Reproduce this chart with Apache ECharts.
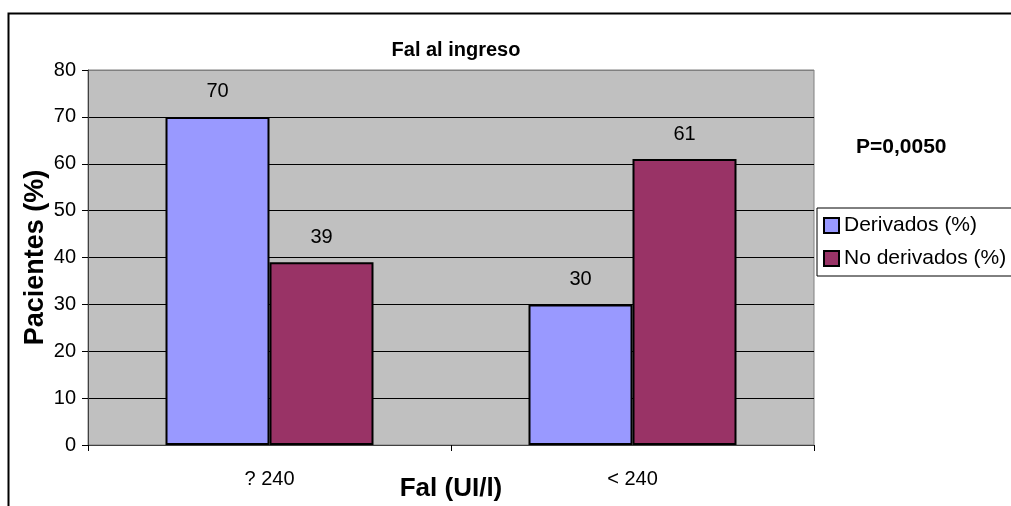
<!DOCTYPE html>
<html><head><meta charset="utf-8">
<script src="https://cdn.jsdelivr.net/npm/echarts@6/dist/echarts.min.js"></script>
<style>html,body{margin:0;padding:0;background:#fff}#c{width:1011px;height:506px}</style>
</head><body><div id="c"></div>
<script>
const categories = ['? 240', '< 240'];
const derivados = [70, 30];
const noDerivados = [39, 61];
const seriesNames = ['Derivados (%)', 'No derivados (%)'];
const yTicks = {min: 0, max: 80, interval: 10};
const pText = 'P=0,0050';

const font = 'Liberation Sans, Arial, sans-serif';
const chart = echarts.init(document.getElementById('c'), null, {renderer: 'canvas'});
const lbl = {show: true, position: 'top', distance: 15, color: '#000', fontSize: 20, fontFamily: font};
chart.setOption({
  animation: false,
  backgroundColor: '#fff',
  title: {text: 'Fal al ingreso', left: 451, top: 35, textAlign: 'center',
    textStyle: {fontSize: 20, fontWeight: 'bold', color: '#000', fontFamily: font}},
  grid: {left: 88, right: 197, top: 70, bottom: 61, containLabel: false, outerBoundsMode: 'none',
    show: true, backgroundColor: '#C0C0C0', borderColor: '#808080', borderWidth: 1},
  legend: {orient: 'vertical', left: 817, top: 208, data: seriesNames, icon: 'rect',
    itemWidth: 15, itemHeight: 15, itemGap: 12,
    padding: [7, 40, 7, 6],
    backgroundColor: '#fff', borderColor: '#000', borderWidth: 1, borderRadius: 0,
    textStyle: {fontSize: 21, color: '#000', fontFamily: font}},
  xAxis: {type: 'category', data: categories,
    name: 'Fal (UI/l)', nameLocation: 'middle', nameGap: 31, nameMoveOverlap: false,
    nameTextStyle: {fontSize: 26, fontWeight: 'bold', color: '#000', fontFamily: font},
    axisLine: {lineStyle: {color: '#404040', width: 1}},
    axisTick: {show: true, length: 6, lineStyle: {color: '#000'}},
    axisLabel: {fontSize: 20, color: '#000', fontFamily: font, margin: 24},
    splitLine: {show: false}},
  yAxis: {type: 'value', min: yTicks.min, max: yTicks.max, interval: yTicks.interval,
    name: 'Pacientes (%)', nameLocation: 'middle', nameGap: 39, nameMoveOverlap: false,
    nameTextStyle: {fontSize: 27, fontWeight: 'bold', color: '#000', fontFamily: font},
    axisLine: {show: true, lineStyle: {color: '#404040', width: 1}},
    axisTick: {show: true, length: 6, lineStyle: {color: '#000'}},
    axisLabel: {fontSize: 20, color: '#000', fontFamily: font, margin: 12},
    splitLine: {show: true, lineStyle: {color: ['#404040','#000','#000','#000','#000','#000','#000','#000','#808080'], width: 1}}},
  series: [
    {name: seriesNames[0], type: 'bar', data: derivados, barGap: '0%', barCategoryGap: '42.7%',
      itemStyle: {color: '#9999FF', borderColor: '#000', borderWidth: 2}, label: lbl},
    {name: seriesNames[1], type: 'bar', data: noDerivados, barGap: '0%', barCategoryGap: '42.7%',
      itemStyle: {color: '#993366', borderColor: '#000', borderWidth: 2}, label: lbl}
  ],
  graphic: [
    {type: 'rect', shape: {x: 8.5, y: 13.5, width: 1100, height: 600}, style: {fill: 'none', stroke: '#000', lineWidth: 2}, z: 100},
    {type: 'text', left: 856, top: 137, style: {text: pText, fontSize: 21, fontWeight: 'bold', fill: '#000', fontFamily: font}}
  ]
});
</script></body></html>
